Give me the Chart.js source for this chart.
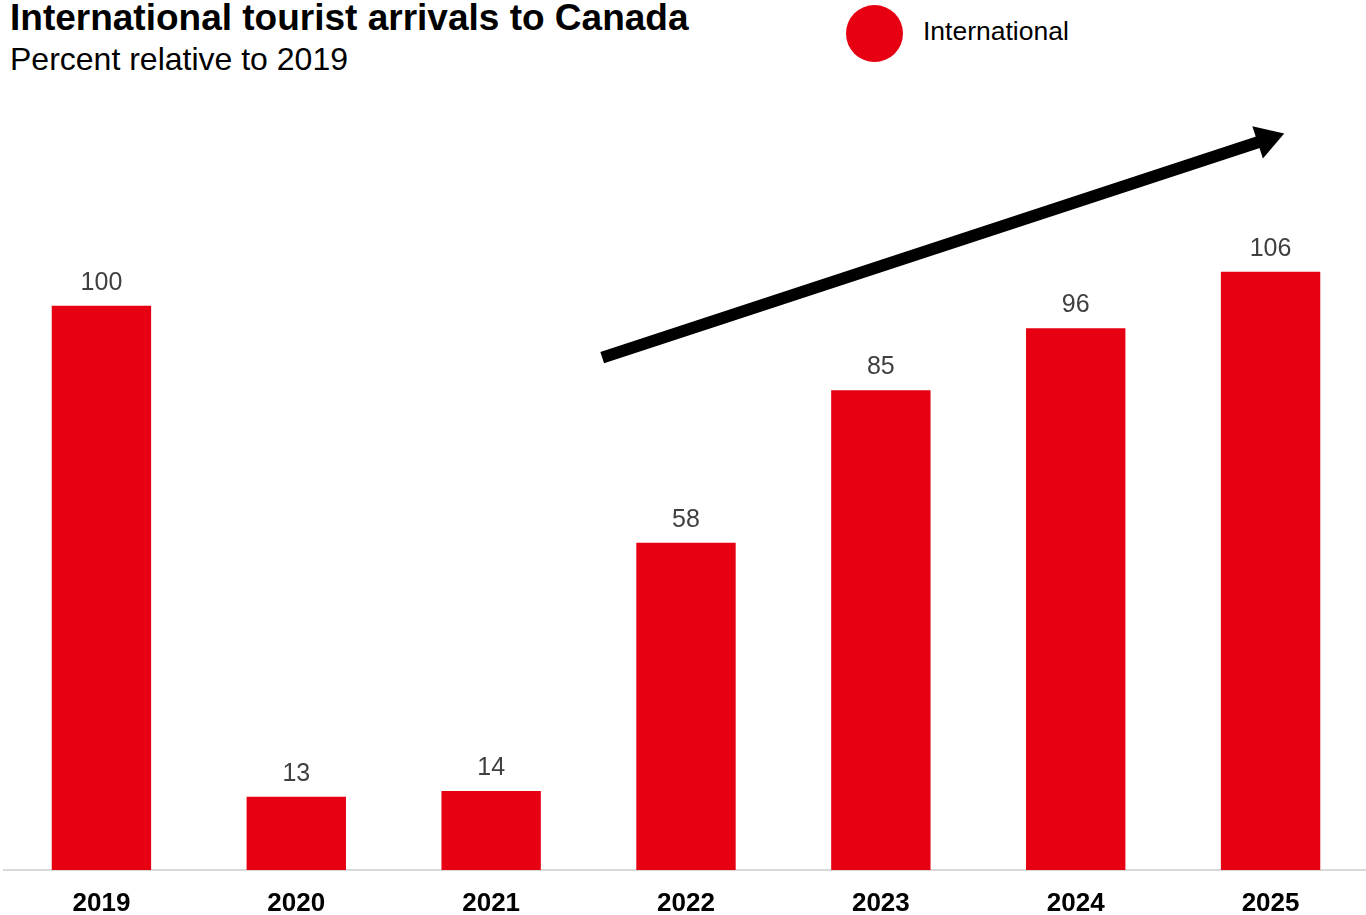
<!DOCTYPE html>
<html>
<head>
<meta charset="utf-8">
<script src="https://cdn.jsdelivr.net/npm/chart.js@4/dist/chart.umd.min.js"></script>
<style>
  html, body { margin: 0; padding: 0; background: #fff; }
  body { width: 1366px; height: 915px; position: relative; overflow: hidden; font-family: "Liberation Sans", Arial, sans-serif; }
  #title { position: absolute; left: 10px; top: -4px; font-size: 37px; font-weight: bold; color: #000; line-height: 44px; white-space: nowrap; }
  #subtitle { position: absolute; left: 10px; top: 40px; font-size: 32px; color: #000; line-height: 38px; white-space: nowrap; }
  #legend { position: absolute; left: 846px; top: 5px; height: 57px; display: flex; align-items: center; }
  #legend .dot { width: 57px; height: 57px; border-radius: 50%; }
  #legend .lbl { margin-left: 20px; font-size: 26.5px; color: #000; position: relative; top: -2px; }
  #c { position: absolute; left: 0; top: 0; }
</style>
</head>
<body>
<div id="title"></div>
<div id="subtitle"></div>
<div id="legend"></div>
<canvas id="c" width="1368" height="915"></canvas>
<script>
// ---- data ----
const titleText = "International tourist arrivals to Canada";
const subtitleText = "Percent relative to 2019";
const categories = ["2019", "2020", "2021", "2022", "2023", "2024", "2025"];
const seriesName = "International";
const values = [100, 13, 14, 58, 85, 96, 106];
// trend arrow annotation: [category index, value]
const arrowFrom = [2.57, 90.8];
const arrowTo = [6.07, 130.5];

const barColor = "#E60012";

document.getElementById("title").textContent = titleText;
document.getElementById("subtitle").textContent = subtitleText;
const lg = document.getElementById("legend");
lg.innerHTML = '<div class="dot" style="background:' + barColor + '"></div><div class="lbl"></div>';
lg.querySelector(".lbl").textContent = seriesName;

const valueLabels = {
  id: "valueLabels",
  afterDatasetsDraw(chart) {
    const ctx = chart.ctx;
    const meta = chart.getDatasetMeta(0);
    ctx.save();
    ctx.font = '25px "Liberation Sans", Arial, sans-serif';
    ctx.fillStyle = "#404040";
    ctx.textAlign = "center";
    ctx.textBaseline = "alphabetic";
    meta.data.forEach((bar, i) => {
      ctx.fillText(String(values[i]), bar.x, bar.y - 16);
    });
    ctx.restore();
  }
};

const trendArrow = {
  id: "trendArrow",
  afterDatasetsDraw(chart) {
    const xs = chart.scales.x, ys = chart.scales.y;
    const x1 = xs.getPixelForValue(arrowFrom[0]), y1 = ys.getPixelForValue(arrowFrom[1]);
    const x2 = xs.getPixelForValue(arrowTo[0]), y2 = ys.getPixelForValue(arrowTo[1]);
    const ang = Math.atan2(y2 - y1, x2 - x1);
    const headLen = 28, headHalf = 17;
    const bx = x2 - headLen * Math.cos(ang), by = y2 - headLen * Math.sin(ang);
    const ctx = chart.ctx;
    ctx.save();
    ctx.strokeStyle = "#000";
    ctx.fillStyle = "#000";
    ctx.lineWidth = 12;
    ctx.lineCap = "butt";
    ctx.beginPath();
    ctx.moveTo(x1, y1);
    ctx.lineTo(bx + 2 * Math.cos(ang), by + 2 * Math.sin(ang));
    ctx.stroke();
    ctx.beginPath();
    ctx.moveTo(x2, y2);
    ctx.lineTo(bx + headHalf * Math.sin(ang), by - headHalf * Math.cos(ang));
    ctx.lineTo(bx - headHalf * Math.sin(ang), by + headHalf * Math.cos(ang));
    ctx.closePath();
    ctx.fill();
    ctx.restore();
  }
};

new Chart(document.getElementById("c"), {
  type: "bar",
  data: {
    labels: categories,
    datasets: [{
      label: seriesName,
      data: values,
      backgroundColor: barColor,
      borderWidth: 0,
      barPercentage: 0.51,
      categoryPercentage: 1.0
    }]
  },
  options: {
    responsive: false,
    animation: false,
    devicePixelRatio: 1,
    layout: { padding: { top: 80, left: 4, right: 0, bottom: 0 } },
    plugins: {
      legend: { display: false },
      title: { display: false },
      tooltip: { enabled: false }
    },
    scales: {
      x: {
        grid: { display: false, drawTicks: false },
        border: { display: true, color: "#d9d9d9", width: 2 },
        ticks: {
          color: "#000",
          font: { family: '"Liberation Sans", Arial, sans-serif', size: 26, weight: "bold" },
          padding: 18,
          maxRotation: 0
        },
        afterFit(scale) { scale.height = 45; }
      },
      y: {
        display: false,
        min: 0,
        max: 140
      }
    }
  },
  plugins: [valueLabels, trendArrow]
});
</script>
</body>
</html>
